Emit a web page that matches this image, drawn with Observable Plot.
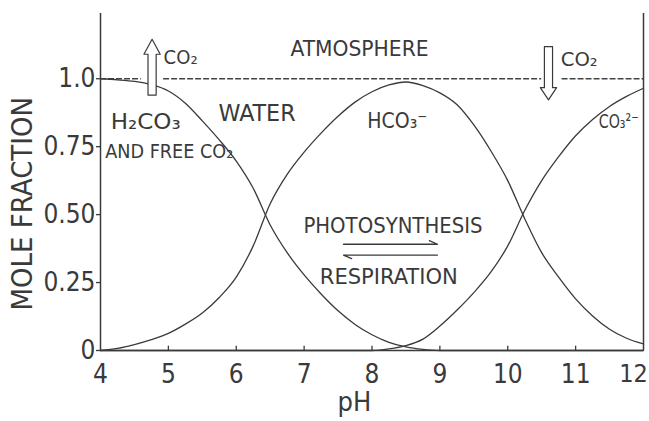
<!DOCTYPE html>
<html><head><meta charset="utf-8">
<script src="https://cdn.jsdelivr.net/npm/d3@7"></script>
<script src="https://cdn.jsdelivr.net/npm/@observablehq/plot@0.6"></script>
<style>body{margin:0;background:#fff} svg{overflow:visible}</style>
</head><body><div id="chart"></div>
<script>
// ---- data ----
const pH = [4,4.25,4.5,4.75,5,5.25,5.5,5.75,6,6.25,6.5,6.75,7,7.25,7.5,7.75,8,8.25,8.5,8.75,9,9.25,9.5,9.75,10,10.25,10.5,10.75,11,11.25,11.5,11.75,12];
const h2co3 = [1.0,0.996,0.99,0.978,0.955,0.91,0.845,0.775,0.697,0.597,0.462,0.36,0.278,0.208,0.146,0.096,0.058,0.03,0.013,0.004,0,0,0,0,0,0,0,0,0,0,0,0,0];
const hco3 = [0.0,0.008,0.022,0.04,0.063,0.097,0.138,0.195,0.27,0.385,0.54,0.648,0.73,0.80,0.862,0.914,0.952,0.977,0.988,0.975,0.948,0.905,0.83,0.735,0.625,0.485,0.36,0.27,0.19,0.127,0.078,0.045,0.024];
const co3 = [0,0,0,0,0,0,0,0,0,0,0,0,0,0,0,0,0,0.006,0.018,0.042,0.09,0.148,0.213,0.288,0.385,0.515,0.625,0.713,0.79,0.85,0.898,0.935,0.965];
const xTicks = [4,5,6,7,8,9,10,11,12];
const yTicks = [0,0.25,0.5,0.75,1.0];
const yTickLabels = ["0","0.25","0.50","0.75","1.0"];
const atmStart = [4, 4.93, 10.8];
const atmEnd = [4.6, 10.5, 12];
const atmLevel = 1.0;
const arrowPH = [4.76, 10.60];
const arrowDir = ["up", "down"];
const labelText = ["ATMOSPHERE","WATER","H₂CO₃","AND FREE CO₂","CO₂","HCO₃⁻","CO₂","CO₃²⁻","PHOTOSYNTHESIS","RESPIRATION"];
const labelX = [6.80, 5.74, 4.15, 4.07, 4.93, 7.93, 10.78, 11.34, 6.99, 7.23];
const labelY = [1.107, 0.871, 0.841, 0.731, 1.077, 0.845, 1.07, 0.841, 0.458, 0.27];
const harpoonX1 = [7.58, 8.965];
const harpoonX2 = [8.965, 7.58];
const harpoonY = [0.391, 0.351];

// ---- layout (not data) ----
const labelFont = [21, 23, 21, 20, 19, 21, 19, 20, 21, 21];
const labelWidth = [138, 77, 70, 128, 34, 60, 37, 40, 179, 138];

// ---- build tables ----
const curves = [["H2CO3", h2co3], ["HCO3", hco3], ["CO3", co3]]
  .flatMap(([name, vals]) => pH.map((p, i) => ({name, pH: p, f: vals[i]})));
const atm = atmStart.map((s, i) => ({x1: s, x2: atmEnd[i], y: atmLevel}));
const arrowPts = arrowPH.flatMap((c, i) => {
  const w = 0.06, W = 0.12;
  const up = arrowDir[i] === "up";
  const tail = up ? 0.94 : 1.118, base = up ? 1.09 : 0.967, tip = up ? 1.145 : 0.922;
  return [[c-w,tail],[c-w,base],[c-W,base],[c,tip],[c+W,base],[c+w,base],[c+w,tail],[c-w,tail]]
    .map(([x,y]) => ({k: i, x, y}));
});
const labels = labelText.map((t, i) => ({t, x: labelX[i], y: labelY[i], fs: labelFont[i]}));
const harpoons = harpoonX1.flatMap((x1, i) => {
  const x2 = harpoonX2[i], y = harpoonY[i];
  const dir = x2 > x1 ? 1 : -1;
  const by = dir > 0 ? 0.013 : -0.013;
  return [{k:i,x:x1,y},{k:i,x:x2,y},{k:i,x:x2 - dir*0.12,y:y+by}];
});

const FONT = "'DejaVu Sans Condensed','Liberation Sans Narrow','Arial Narrow',sans-serif";
const ink = "#3a3a3a";

const chart = Plot.plot({
  width: 649, height: 421,
  marginLeft: 100, marginRight: 6, marginTop: 13, marginBottom: 71,
  x: {domain: [4, 12]},
  y: {domain: [0, 1.24]},
  style: {fontFamily: FONT, color: ink, background: "#fff"},
  marks: [
    Plot.axisX({ticks: xTicks.slice(0, -1), tickSize: 0, tickPadding: 14, fontSize: 26, label: null, tickFormat: d => String(d)}),
    Plot.axisX({ticks: xTicks.slice(-1), tickSize: 0, tickPadding: 14, fontSize: 25, label: null, dx: -10, tickFormat: d => String(d)}),
    Plot.axisY({ticks: yTicks, tickSize: 4, tickPadding: 1, fontSize: 26, label: null, stroke: ink, strokeWidth: 1.3,
      tickFormat: (d, i) => yTickLabels[i]}),
    Plot.ruleX(xTicks.slice(1, -1), {y1: 0, y2: 0.016, stroke: ink, strokeWidth: 1.3}),
    Plot.ruleX([4, 12], {y1: 0, y2: 1.24, stroke: ink, strokeWidth: 1.5}),
    Plot.ruleY([0], {x1: 4, x2: 12, stroke: ink, strokeWidth: 1.5}),
    Plot.ruleY(atm, {x1: "x1", x2: "x2", y: "y", stroke: "#444", strokeWidth: 1.3, strokeDasharray: "6,2"}),
    Plot.line(curves, {x: "pH", y: "f", z: "name", curve: "monotone-x", stroke: ink, strokeWidth: 1.3}),
    Plot.line(arrowPts, {x: "x", y: "y", z: "k", stroke: ink, strokeWidth: 1.2, fill: "white"}),
    Plot.line(harpoons, {x: "x", y: "y", z: "k", stroke: ink, strokeWidth: 1.3}),
    Plot.text(labels, {x: "x", y: "y", text: "t", textAnchor: "start", fontSize: "fs", fill: ink, className: "lbl"}),
    Plot.text(["pH"], {x: 7.74, y: -0.19, fontSize: 27, fill: ink}),
    Plot.text(["MOLE FRACTION"], {x: 2.85, y: 0.54, rotate: -90, fontSize: 29, fill: ink})
  ]
});
d3.select(chart).selectAll("g.lbl text").each(function(d, i) {
  this.setAttribute("textLength", labelWidth[i]);
  this.setAttribute("lengthAdjust", "spacingAndGlyphs");
});
document.getElementById("chart").appendChild(chart);
</script>
</body></html>
